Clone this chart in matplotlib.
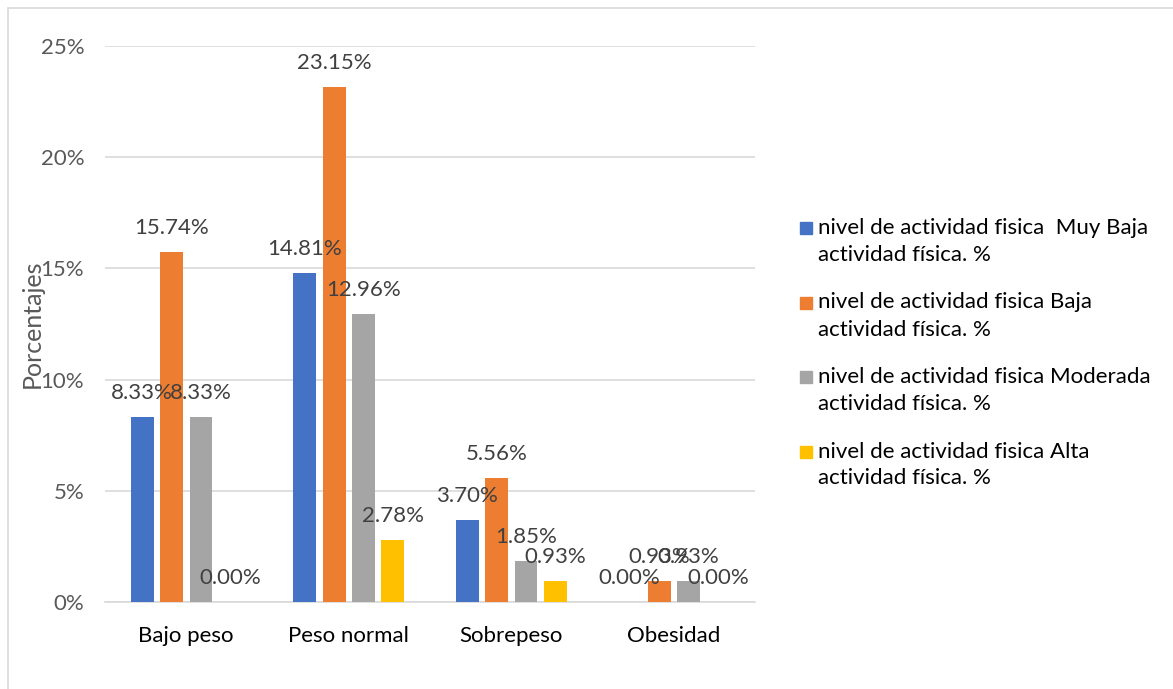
import matplotlib.pyplot as plt
import numpy as np
from matplotlib.patches import Rectangle

categories = ['Bajo peso', 'Peso normal', 'Sobrepeso', 'Obesidad']
series_names = [
    ('nivel de actividad fisica  Muy Baja', 'actividad física. %'),
    ('nivel de actividad fisica Baja', 'actividad física. %'),
    ('nivel de actividad fisica Moderada', 'actividad física. %'),
    ('nivel de actividad fisica Alta', 'actividad física. %'),
]
muy_baja = [8.33, 14.81, 3.70, 0.00]
baja = [15.74, 23.15, 5.56, 0.93]
moderada = [8.33, 12.96, 1.85, 0.93]
alta = [0.00, 2.78, 0.93, 0.00]
series_values = [muy_baja, baja, moderada, alta]
colors = ['#4472C4', '#ED7D31', '#A5A5A5', '#FFC000']
y_ticks = [0, 5, 10, 15, 20, 25]

plt.rcParams['font.family'] = ['Lato', 'DejaVu Sans']
text_color = '#595959'
grid_color = '#D9D9D9'
W, H = 1173, 689

fig = plt.figure(figsize=(W / 100, H / 100), dpi=100)
ax = fig.add_axes([105 / W, 1 - 602 / H, 650 / W, 556 / H])

x = np.arange(len(categories))
bar_w = 0.1415
step = 0.1815
for i, (vals, col) in enumerate(zip(series_values, colors)):
    pos = x + (i - 1.5) * step
    ax.bar(pos, vals, width=bar_w, color=col, zorder=3)
    for p, v in zip(pos, vals):
        ax.annotate(f'{v:.2f}%', (p, v), xytext=(0, 24), textcoords='offset pixels',
                    ha='center', va='center', fontsize=16, color='#404040', zorder=4)

ax.set_xlim(-0.5, 3.5)
ax.set_ylim(0, 25)
ax.set_yticks(y_ticks)
ax.set_yticklabels([f'{t}%' for t in y_ticks])
ax.set_xticks(x)
ax.set_xticklabels(categories)
ax.tick_params(axis='y', length=0, colors=text_color, labelsize=16, pad=15)
ax.tick_params(axis='x', length=0, colors='#000000', labelsize=16, pad=17)
ax.grid(axis='y', color=grid_color, linewidth=1.2, zorder=0)
for s in ['top', 'right', 'left']:
    ax.spines[s].set_visible(False)
ax.spines['bottom'].set_color(grid_color)
ax.spines['bottom'].set_linewidth(1.2)
ax.set_ylabel('Porcentajes', fontsize=18, color=text_color)
ax.yaxis.set_label_coords(-0.094, 0.5)

# legend drawn by hand so the square sits beside the first line of each entry
for i, ((line1, line2), col) in enumerate(zip(series_names, colors)):
    y0 = 228 + 74.5 * i
    fig.add_artist(Rectangle((800 / W, 1 - (y0 + 6) / H), 12 / W, 12 / H,
                             transform=fig.transFigure, color=col))
    fig.text(818 / W, 1 - y0 / H, line1, fontsize=16, color='#000000', va='center')
    fig.text(818 / W, 1 - (y0 + 27) / H, line2, fontsize=16, color='#000000', va='center')

# light border of the chart area
fig.add_artist(Rectangle((8 / W, -0.1), 1.2, 1 - 8 / H + 0.1, transform=fig.transFigure,
                         fill=False, edgecolor='#D9D9D9', linewidth=1.2))

fig.savefig('out.png', dpi=100, facecolor='white')
